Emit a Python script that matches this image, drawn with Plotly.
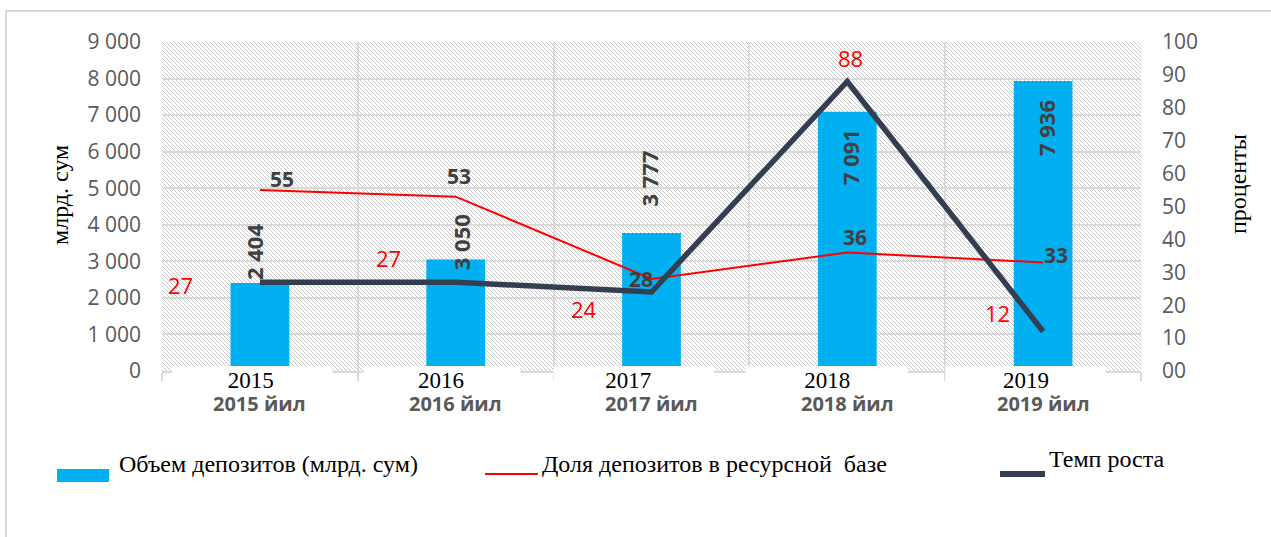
import base64
import plotly.graph_objects as go

# ---------------- data ----------------
years = ["2015", "2016", "2017", "2018", "2019"]
year_labels = ["2015 йил", "2016 йил", "2017 йил", "2018 йил", "2019 йил"]
deposits = [2404, 3050, 3777, 7091, 7936]          # млрд. сум (left axis)
share = [55, 53, 28, 36, 33]                        # Доля депозитов в ресурсной базе, %
growth = [27, 27, 24, 88, 12]                       # Темп роста, %
left_tickvals = [0, 1000, 2000, 3000, 4000, 5000, 6000, 7000, 8000, 9000]
right_tickvals = [0, 10, 20, 30, 40, 50, 60, 70, 80, 90, 100]
right_ticktext = ["00", "10", "20", "30", "40", "50", "60", "70", "80", "90", "100"]
series_names = ["Объем депозитов (млрд. сум)",
                "Доля депозитов в ресурсной \u00a0базе",
                "Темп роста"]
left_title = "млрд. сум"
right_title = "проценты"

# ---------------- styling ----------------
W, H = 1271, 537
ML, MR, MT, MB = 162, 130, 42, 166
PW, PH = W - ML - MR, H - MT - MB

BLUE = "#00b0f0"
RED = "#ff0000"
DARK = "#333f50"
GRID = "#d9d9d9"
TICK = "#595959"
LBL = "#404040"
SANS = "Open Sans"
SERIF = "Liberation Serif"

# label offsets (pixels) relative to data points
bar_lbl_dx = [-6, 5, -3, 2, 3]
bar_lbl_dy = [31, 17, 54, -45, -47]
share_lbl_dx = [22, 3, -11, 8, 13]
share_lbl_dy = [11, 21, 0, 16, 7]
growth_lbl_dx = [-79, -67, -68, 3, -46]
growth_lbl_dy = [-3, 24, -17, 23, 19]
year_pad = [3, 5, 8, 7, 6]      # trailing no-break spaces shift the serif year left
# white patches behind the year labels (category-unit offsets)
patch_l = [-0.45, -0.47, -0.50, -0.52, -0.50]
patch_r = [0.37, 0.33, 0.32, 0.31, 0.32]


def px(xp):
    return (xp - ML) / PW


def py(yp):
    return (MT + PH - yp) / PH


def fmt_thousands(v):
    return f"{v:,}".replace(",", " ")


# hatch background for plot area
svg = (
    f'<svg xmlns="http://www.w3.org/2000/svg" width="{PW}" height="{PH}">'
    '<defs><pattern id="h" patternUnits="userSpaceOnUse" width="4" height="4">'
    '<rect width="4" height="4" fill="white"/>'
    '<path d="M-1,-1 L5,5 M-1,3 L1,5 M3,-1 L5,1" stroke="#cacaca" stroke-width="1"/>'
    '</pattern></defs>'
    f'<rect width="{PW}" height="{PH}" fill="url(#h)"/></svg>'
)
hatch_uri = "data:image/svg+xml;base64," + base64.b64encode(svg.encode()).decode()

fig = go.Figure()

fig.add_trace(go.Bar(
    x=years, y=deposits, name=series_names[0],
    marker=dict(color=BLUE, line=dict(width=0)),
    width=0.3, yaxis="y", showlegend=False,
))
fig.add_trace(go.Scatter(
    x=years, y=share, name=series_names[1], mode="lines",
    line=dict(color=RED, width=2), yaxis="y2", showlegend=False,
))
fig.add_trace(go.Scatter(
    x=years, y=growth, name=series_names[2], mode="lines",
    line=dict(color=DARK, width=5.5), yaxis="y2", showlegend=False,
))

ann = []
# bar value labels (x given as category index)
for i, v in enumerate(deposits):
    ann.append(dict(x=i, y=v, xref="x", yref="y", text=fmt_thousands(v),
                    textangle=-90, showarrow=False, xanchor="center", yanchor="middle",
                    xshift=bar_lbl_dx[i], yshift=bar_lbl_dy[i],
                    font=dict(family=SANS, size=22, color=LBL, weight="bold")))
# share labels
for i, v in enumerate(share):
    ann.append(dict(x=i, y=v, xref="x", yref="y2", text=str(v), showarrow=False,
                    xanchor="center", yanchor="middle",
                    xshift=share_lbl_dx[i], yshift=share_lbl_dy[i],
                    font=dict(family=SANS, size=21, color=LBL, weight="bold")))
# growth labels
for i, v in enumerate(growth):
    ann.append(dict(x=i, y=v, xref="x", yref="y2", text=str(v), showarrow=False,
                    xanchor="center", yanchor="middle",
                    xshift=growth_lbl_dx[i], yshift=growth_lbl_dy[i],
                    font=dict(family=SANS, size=22, color=RED)))
# category labels: serif year on the first line, bold "йил" label below
for i, (yr, yl) in enumerate(zip(years, year_labels)):
    txt = (f"<span style='font-family:{SERIF};font-size:23px;fill:black;"
           f"font-weight:normal'>{yr}{chr(160) * year_pad[i]}</span><br>"
           f"<span style='font-size:20px'><b>{yl}</b></span>")
    ann.append(dict(x=i, y=0, xref="x", yref="paper", text=txt, showarrow=False,
                    yshift=-21, xanchor="center", yanchor="middle",
                    font=dict(family=SANS, size=17.7, color=TICK)))
# axis titles
ann.append(dict(x=px(60), y=py(195), xref="paper", yref="paper", text=left_title,
                textangle=-90, showarrow=False, xanchor="center", yanchor="middle",
                font=dict(family=SERIF, size=24, color="black")))
ann.append(dict(x=px(1238), y=py(184), xref="paper", yref="paper", text=right_title,
                textangle=-90, showarrow=False, xanchor="center", yanchor="middle",
                font=dict(family=SERIF, size=24, color="black")))
# legend texts
ann.append(dict(x=px(117), y=py(464), xref="paper", yref="paper", text=series_names[0],
                xanchor="left", yanchor="middle", showarrow=False,
                font=dict(family=SERIF, size=24, color="black")))
ann.append(dict(x=px(540), y=py(464), xref="paper", yref="paper", text=series_names[1],
                xanchor="left", yanchor="middle", showarrow=False,
                font=dict(family=SERIF, size=24, color="black")))
ann.append(dict(x=px(1047), y=py(459), xref="paper", yref="paper", text=series_names[2],
                xanchor="left", yanchor="middle", showarrow=False,
                font=dict(family=SERIF, size=24, color="black")))

shapes = [
    # outer chart border
    dict(type="rect", xref="paper", yref="paper",
         x0=px(6), x1=px(1290), y0=py(560), y1=py(11),
         line=dict(color=GRID, width=2), fillcolor="rgba(0,0,0,0)", layer="below"),
    # legend swatches
    dict(type="rect", xref="paper", yref="paper",
         x0=px(57), x1=px(109), y0=py(482), y1=py(469),
         line=dict(width=0), fillcolor=BLUE),
    dict(type="line", xref="paper", yref="paper",
         x0=px(485), x1=px(538), y0=py(474), y1=py(474),
         line=dict(color=RED, width=2)),
    dict(type="line", xref="paper", yref="paper",
         x0=px(1000), x1=px(1045), y0=py(474), y1=py(474),
         line=dict(color=DARK, width=6)),
]
# white patches that cover the axis bottom behind the year labels
for i in range(len(years)):
    shapes.append(dict(type="rect", xref="x", yref="paper",
                       x0=i + patch_l[i], x1=i + patch_r[i],
                       y0=py(393), y1=py(366),
                       line=dict(width=0), fillcolor="white", layer="above"))

fig.update_layout(
    width=W, height=H, autosize=False,
    margin=dict(l=ML, r=MR, t=MT, b=MB, pad=0),
    paper_bgcolor="white", plot_bgcolor="white",
    separators=", ",
    font=dict(family=SANS, color=TICK),
    xaxis=dict(type="category", range=[-0.5, 4.5], tickson="boundaries",
               showgrid=True, gridcolor=GRID, gridwidth=2,
               showticklabels=False, ticks="outside", ticklen=8,
               tickcolor=GRID, tickwidth=2,
               showline=True, linecolor=GRID, linewidth=2, zeroline=False),
    yaxis=dict(range=[0, 9000], tickvals=left_tickvals, tickformat=",d",
               showgrid=True, gridcolor=GRID, gridwidth=2, zeroline=False,
               ticks="", ticklabelstandoff=20, showline=False,
               tickfont=dict(family=SANS, size=21, color=TICK)),
    yaxis2=dict(range=[0, 100], overlaying="y", side="right",
                tickvals=right_tickvals, ticktext=right_ticktext,
                showgrid=False, zeroline=False, ticks="", ticklabelstandoff=20,
                tickfont=dict(family=SANS, size=21, color=TICK)),
    images=[dict(source=hatch_uri, xref="paper", yref="paper", x=0, y=1,
                 sizex=1, sizey=1, xanchor="left", yanchor="top",
                 sizing="stretch", layer="below")],
    annotations=ann,
    shapes=shapes,
    showlegend=False,
)

fig.write_html("out.html")
